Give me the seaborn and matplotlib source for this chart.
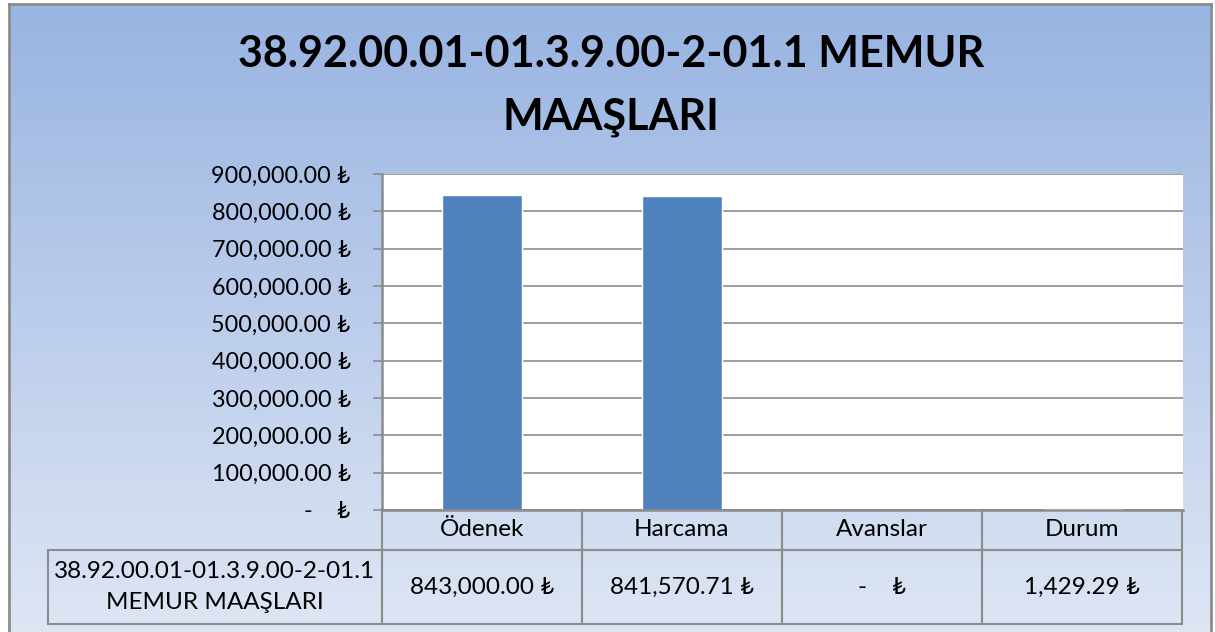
import numpy as np
import seaborn as sns
import matplotlib.pyplot as plt
from matplotlib.ticker import FuncFormatter, MultipleLocator

# data
title_lines = ["38.92.00.01-01.3.9.00-2-01.1 MEMUR", "MAAŞLARI"]
row_label = "38.92.00.01-01.3.9.00-2-01.1\nMEMUR MAAŞLARI"
categories = ["Ödenek", "Harcama", "Avanslar", "Durum"]
values = [843000.00, 841570.71, 0.0, 1429.29]

sns.set_style("white")
plt.rcParams['font.family'] = ['Lato', 'DejaVu Sans']

GRAY = "#8C8C8C"
BAR = "#4F81BD"


def tl(v):
    if v == 0:
        return "-    ₺"
    return f"{v:,.2f} ₺"


W, H = 1215, 632
fig = plt.figure(figsize=(W / 100, H / 100), dpi=100)

# gradient background inside the chart frame
bg = fig.add_axes([9 / W, 0, (1211 - 9) / W, (H - 4) / H], zorder=0)
grad = np.linspace(0, 1, 256).reshape(-1, 1)
top = np.array([152, 180, 226]) / 255
bot = np.array([222, 230, 244]) / 255
img = top + (bot - top) * grad[:, :, None] * np.ones((1, 1, 3))
bg.imshow(img, aspect="auto", extent=[0, 1, 0, 1])
bg.set_xticks([])
bg.set_yticks([])
for s in ["left", "top", "right"]:
    bg.spines[s].set_color(GRAY)
    bg.spines[s].set_linewidth(2)
bg.spines["bottom"].set_visible(False)

# title, two lines like the original
for line, yc in zip(title_lines, [54, 117]):
    fig.text(611 / W, 1 - yc / H, line, ha="center", va="center",
             fontsize=31, fontweight="bold", color="black")

ax = fig.add_axes([382 / W, (H - 510) / H, 801 / W, 336 / H], zorder=2)
ax.set_facecolor("white")
sns.barplot(x=categories, y=values, color=BAR, width=0.4, saturation=1, ax=ax)
ax.set_ylim(0, 900000)
ax.yaxis.set_major_locator(MultipleLocator(100000))
ax.yaxis.set_major_formatter(FuncFormatter(lambda v, p: tl(v)))
ax.yaxis.grid(True, color=GRAY, lw=1.2)
ax.set_axisbelow(True)
ax.tick_params(axis="y", left=True, length=6.5, width=1.2, color=GRAY,
               labelsize=16.8, pad=16, labelcolor="black")
ax.tick_params(axis="x", bottom=False, labelbottom=False)
ax.set_xlabel("")
ax.set_ylabel("")
for s in ["top", "right"]:
    ax.spines[s].set_visible(False)
for s in ["left", "bottom"]:
    ax.spines[s].set_color(GRAY)
    ax.spines[s].set_linewidth(1.8)

# data table below the plot
cell_text = [[row_label] + [tl(v) for v in values]]
col_w = np.array([334, 200, 200, 200, 200]) / 1134
tab = ax.table(cellText=cell_text, colLabels=[""] + categories,
               colWidths=list(col_w), cellLoc="center",
               bbox=[-334 / 801, -114 / 336, 1134 / 801, 114 / 336])
tab.auto_set_font_size(False)
tab.set_fontsize(17.5)
for (r, c), cell in tab.get_celld().items():
    cell.set_facecolor("none")
    cell.set_edgecolor(GRAY)
    cell.set_linewidth(1.5)
    cell.set_height(40 / 114 if r == 0 else 74 / 114)
    cell.get_text().set_color("black")
    if r == 0 and c == 0:
        cell.visible_edges = ""
tab[1, 0].get_text().set_linespacing(1.55)

fig.savefig("out.png", dpi=100)
